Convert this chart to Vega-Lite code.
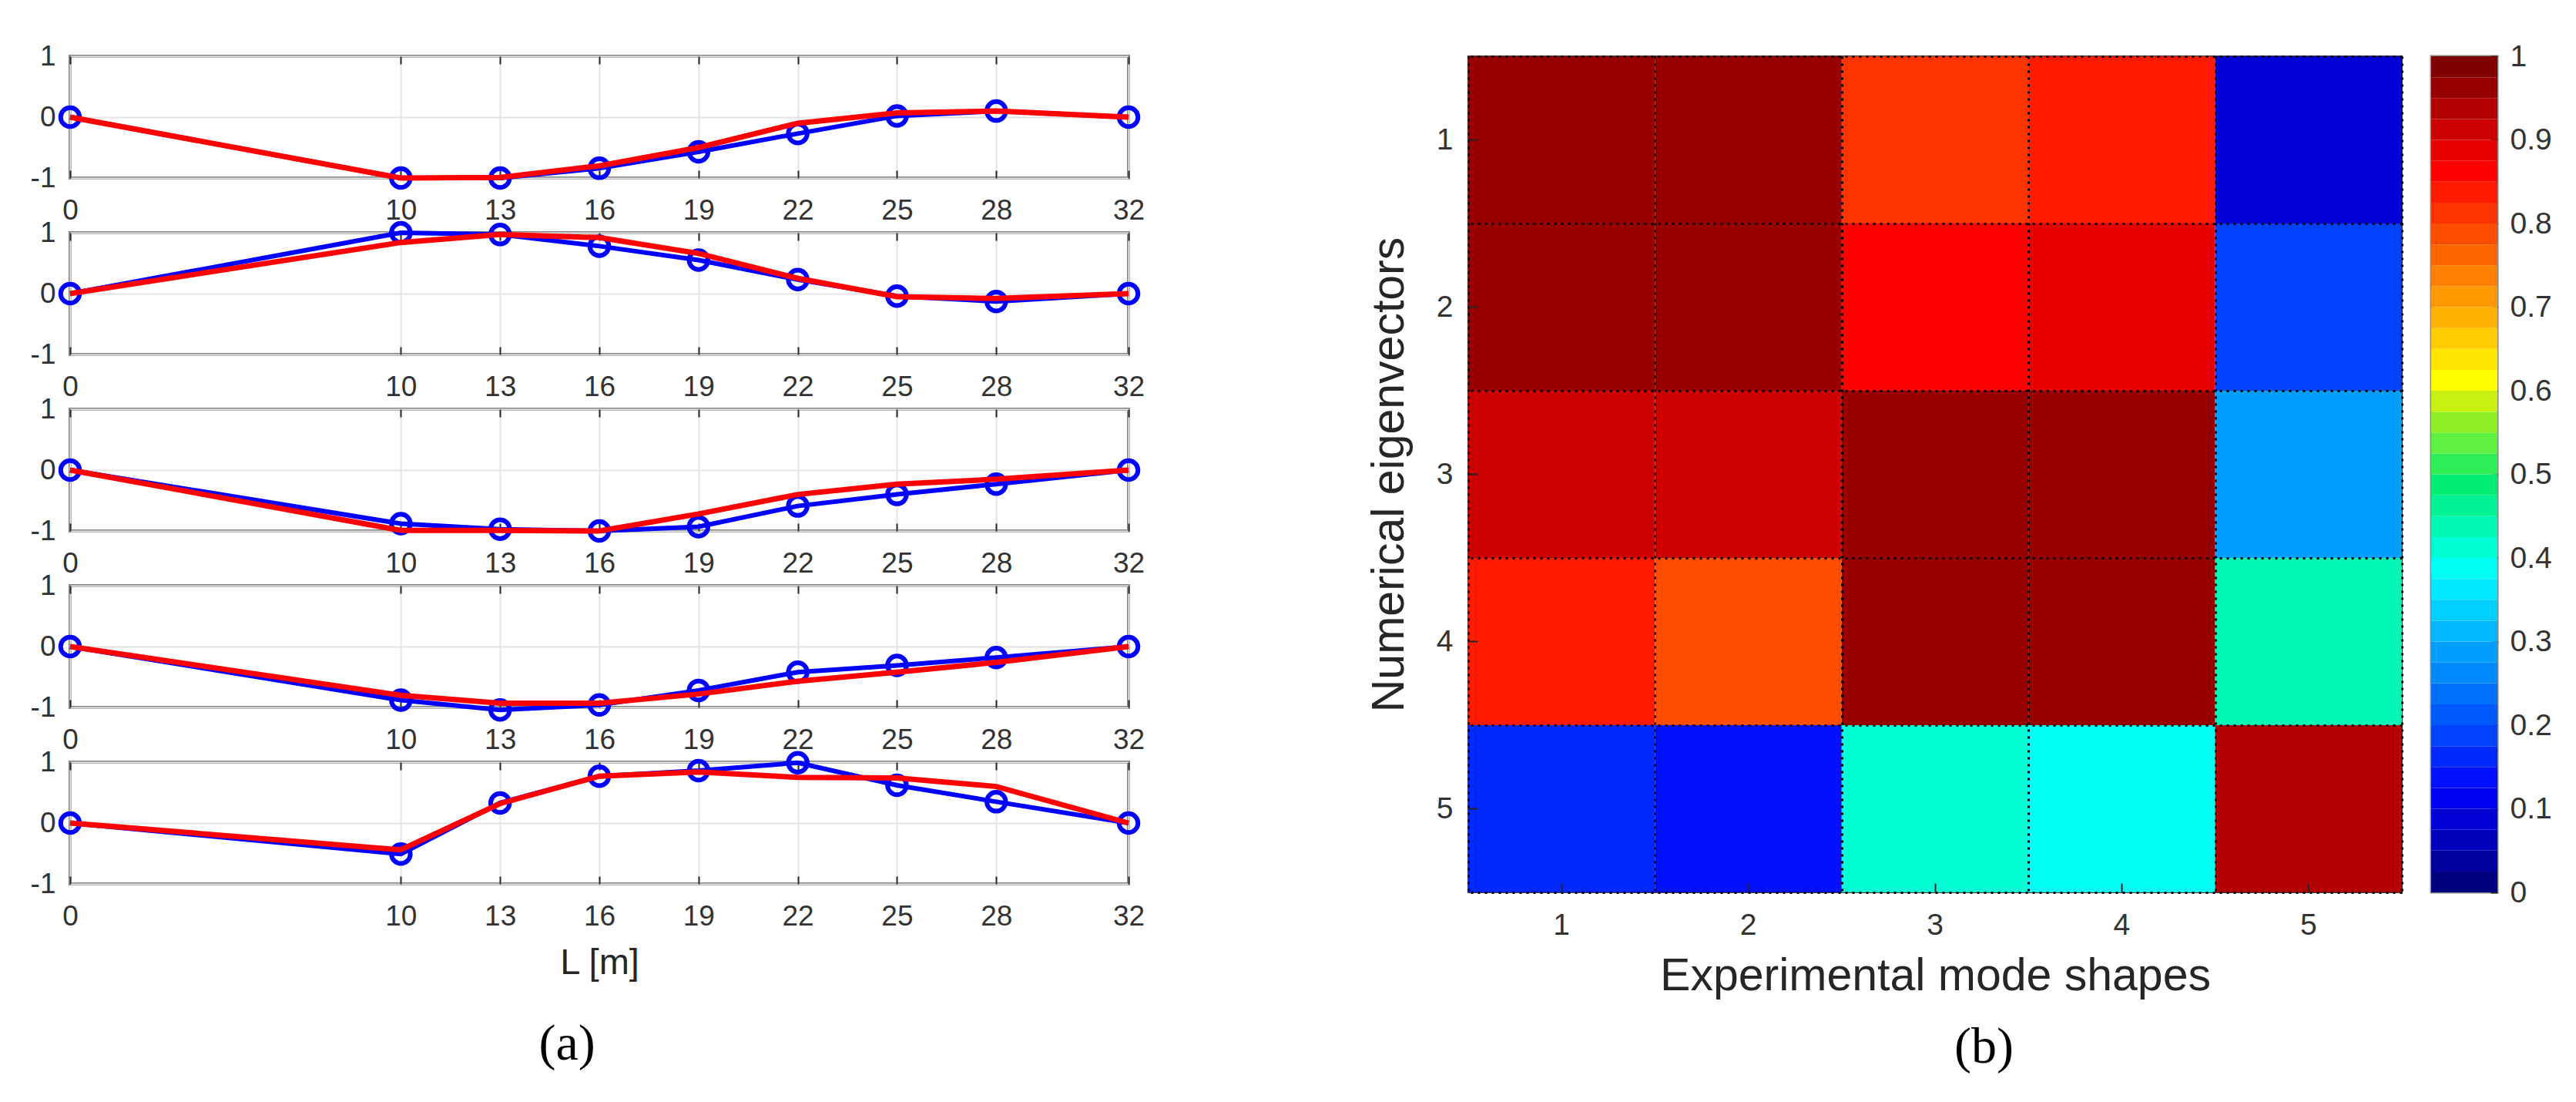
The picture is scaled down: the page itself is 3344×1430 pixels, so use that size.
{
  "$schema": "https://vega.github.io/schema/vega-lite/v6.json",
  "background": "white",
  "padding": {"left": 37, "top": 52, "right": 10, "bottom": 10},
  "config": {
    "font": "Liberation Sans",
    "view": {"stroke": null},
    "axis": {"labelFont": "Liberation Sans", "titleFont": "Liberation Sans", "labelColor": "#333333", "titleColor": "#262626", "titleFontWeight": "normal", "tickColor": "#262626"}
  },
  "datasets": {
    "modes": [
      {"mode": 1, "L": 0, "exp": 0, "num": 0},
      {"mode": 1, "L": 10, "exp": -1.0, "num": -1.0},
      {"mode": 1, "L": 13, "exp": -1.0, "num": -0.99},
      {"mode": 1, "L": 16, "exp": -0.84, "num": -0.8},
      {"mode": 1, "L": 19, "exp": -0.57, "num": -0.5},
      {"mode": 1, "L": 22, "exp": -0.27, "num": -0.1},
      {"mode": 1, "L": 25, "exp": 0.02, "num": 0.07},
      {"mode": 1, "L": 28, "exp": 0.1, "num": 0.1},
      {"mode": 1, "L": 32, "exp": 0, "num": 0},
      {"mode": 2, "L": 0, "exp": 0, "num": 0},
      {"mode": 2, "L": 10, "exp": 1.0, "num": 0.84},
      {"mode": 2, "L": 13, "exp": 0.97, "num": 0.97},
      {"mode": 2, "L": 16, "exp": 0.78, "num": 0.92},
      {"mode": 2, "L": 19, "exp": 0.55, "num": 0.66},
      {"mode": 2, "L": 22, "exp": 0.23, "num": 0.25},
      {"mode": 2, "L": 25, "exp": -0.04, "num": -0.05},
      {"mode": 2, "L": 28, "exp": -0.13, "num": -0.08},
      {"mode": 2, "L": 32, "exp": 0, "num": 0},
      {"mode": 3, "L": 0, "exp": 0, "num": 0},
      {"mode": 3, "L": 10, "exp": -0.88, "num": -0.99},
      {"mode": 3, "L": 13, "exp": -0.97, "num": -0.99},
      {"mode": 3, "L": 16, "exp": -1.0, "num": -1.0},
      {"mode": 3, "L": 19, "exp": -0.93, "num": -0.72},
      {"mode": 3, "L": 22, "exp": -0.59, "num": -0.4},
      {"mode": 3, "L": 25, "exp": -0.4, "num": -0.23},
      {"mode": 3, "L": 28, "exp": -0.23, "num": -0.15},
      {"mode": 3, "L": 32, "exp": 0, "num": 0},
      {"mode": 4, "L": 0, "exp": 0, "num": 0},
      {"mode": 4, "L": 10, "exp": -0.88, "num": -0.8},
      {"mode": 4, "L": 13, "exp": -1.04, "num": -0.93},
      {"mode": 4, "L": 16, "exp": -0.96, "num": -0.93},
      {"mode": 4, "L": 19, "exp": -0.72, "num": -0.78},
      {"mode": 4, "L": 22, "exp": -0.42, "num": -0.57},
      {"mode": 4, "L": 25, "exp": -0.31, "num": -0.42},
      {"mode": 4, "L": 28, "exp": -0.18, "num": -0.26},
      {"mode": 4, "L": 32, "exp": 0, "num": 0},
      {"mode": 5, "L": 0, "exp": 0, "num": 0},
      {"mode": 5, "L": 10, "exp": -0.51, "num": -0.44},
      {"mode": 5, "L": 13, "exp": 0.33, "num": 0.32},
      {"mode": 5, "L": 16, "exp": 0.77, "num": 0.77},
      {"mode": 5, "L": 19, "exp": 0.86, "num": 0.84},
      {"mode": 5, "L": 22, "exp": 0.99, "num": 0.75},
      {"mode": 5, "L": 25, "exp": 0.62, "num": 0.74},
      {"mode": 5, "L": 28, "exp": 0.35, "num": 0.6},
      {"mode": 5, "L": 32, "exp": 0, "num": 0}
    ],
    "mac": [
      {"num": 1, "exp": 1, "mac": 0.96}, {"num": 1, "exp": 2, "mac": 0.96}, {"num": 1, "exp": 3, "mac": 0.81}, {"num": 1, "exp": 4, "mac": 0.84}, {"num": 1, "exp": 5, "mac": 0.08},
      {"num": 2, "exp": 1, "mac": 0.96}, {"num": 2, "exp": 2, "mac": 0.96}, {"num": 2, "exp": 3, "mac": 0.86}, {"num": 2, "exp": 4, "mac": 0.89}, {"num": 2, "exp": 5, "mac": 0.19},
      {"num": 3, "exp": 1, "mac": 0.91}, {"num": 3, "exp": 2, "mac": 0.91}, {"num": 3, "exp": 3, "mac": 0.96}, {"num": 3, "exp": 4, "mac": 0.96}, {"num": 3, "exp": 5, "mac": 0.28},
      {"num": 4, "exp": 1, "mac": 0.84}, {"num": 4, "exp": 2, "mac": 0.79}, {"num": 4, "exp": 3, "mac": 0.96}, {"num": 4, "exp": 4, "mac": 0.96}, {"num": 4, "exp": 5, "mac": 0.445},
      {"num": 5, "exp": 1, "mac": 0.165}, {"num": 5, "exp": 2, "mac": 0.14}, {"num": 5, "exp": 3, "mac": 0.41}, {"num": 5, "exp": 4, "mac": 0.39}, {"num": 5, "exp": 5, "mac": 0.94}
    ],
    "bands": [
      {"lo": 0, "hi": 0.025, "v": 0.0125}, {"lo": 0.025, "hi": 0.05, "v": 0.0375}, {"lo": 0.05, "hi": 0.075, "v": 0.0625}, {"lo": 0.075, "hi": 0.1, "v": 0.0875},
      {"lo": 0.1, "hi": 0.125, "v": 0.1125}, {"lo": 0.125, "hi": 0.15, "v": 0.1375}, {"lo": 0.15, "hi": 0.175, "v": 0.1625}, {"lo": 0.175, "hi": 0.2, "v": 0.1875},
      {"lo": 0.2, "hi": 0.225, "v": 0.2125}, {"lo": 0.225, "hi": 0.25, "v": 0.2375}, {"lo": 0.25, "hi": 0.275, "v": 0.2625}, {"lo": 0.275, "hi": 0.3, "v": 0.2875},
      {"lo": 0.3, "hi": 0.325, "v": 0.3125}, {"lo": 0.325, "hi": 0.35, "v": 0.3375}, {"lo": 0.35, "hi": 0.375, "v": 0.3625}, {"lo": 0.375, "hi": 0.4, "v": 0.3875},
      {"lo": 0.4, "hi": 0.425, "v": 0.4125}, {"lo": 0.425, "hi": 0.45, "v": 0.4375}, {"lo": 0.45, "hi": 0.475, "v": 0.4625}, {"lo": 0.475, "hi": 0.5, "v": 0.4875},
      {"lo": 0.5, "hi": 0.525, "v": 0.5125}, {"lo": 0.525, "hi": 0.55, "v": 0.5375}, {"lo": 0.55, "hi": 0.575, "v": 0.5625}, {"lo": 0.575, "hi": 0.6, "v": 0.5875},
      {"lo": 0.6, "hi": 0.625, "v": 0.6125}, {"lo": 0.625, "hi": 0.65, "v": 0.6375}, {"lo": 0.65, "hi": 0.675, "v": 0.6625}, {"lo": 0.675, "hi": 0.7, "v": 0.6875},
      {"lo": 0.7, "hi": 0.725, "v": 0.7125}, {"lo": 0.725, "hi": 0.75, "v": 0.7375}, {"lo": 0.75, "hi": 0.775, "v": 0.7625}, {"lo": 0.775, "hi": 0.8, "v": 0.7875},
      {"lo": 0.8, "hi": 0.825, "v": 0.8125}, {"lo": 0.825, "hi": 0.85, "v": 0.8375}, {"lo": 0.85, "hi": 0.875, "v": 0.8625}, {"lo": 0.875, "hi": 0.9, "v": 0.8875},
      {"lo": 0.9, "hi": 0.925, "v": 0.9125}, {"lo": 0.925, "hi": 0.95, "v": 0.9375}, {"lo": 0.95, "hi": 0.975, "v": 0.9625}, {"lo": 0.975, "hi": 1, "v": 0.9875}
    ]
  },
  "hconcat": [
    {
      "data": {"name": "modes"},
      "bounds": "flush",
      "spacing": 71,
      "title": {"text": "(a)", "orient": "bottom", "anchor": "middle", "font": "Liberation Serif", "fontSize": 66, "fontWeight": "normal", "color": "#000000", "offset": 49, "dx": -28},
      "vconcat": [
        {
          "width": 1374, "height": 158,
          "view": {"stroke": "#858585", "strokeWidth": 4},
          "transform": [{"filter": "datum.mode == 1"}],
          "layer": [
            {"mark": {"type": "line", "color": "#0000ff", "strokeWidth": 6, "point": {"filled": false, "color": "#0000ff", "size": 600, "strokeWidth": 6}},
             "encoding": {
               "x": {"field": "L", "type": "quantitative", "scale": {"domain": [0, 32], "nice": false, "zero": false},
                     "axis": {"orient": "bottom", "values": [0, 10, 13, 16, 19, 22, 25, 28, 32], "labelFontSize": 37, "labelPadding": 34, "tickSize": -10, "tickWidth": 2, "labelFlush": false, "grid": true, "gridColor": "#e4e4e4", "gridWidth": 2, "domain": false, "title": null}},
               "y": {"field": "exp", "type": "quantitative", "scale": {"domain": [-1, 1], "nice": false, "zero": false},
                     "axis": {"values": [-1, 0, 1], "labelFontSize": 37, "labelPadding": 19, "ticks": false, "grid": true, "gridColor": "#e4e4e4", "gridWidth": 2, "domain": false, "title": null, "labelExpr": "datum.value < 0 ? '-1' : (datum.value > 0 ? '1' : '0')"}}
             }},
            {"mark": {"type": "line", "color": "#ff0000", "strokeWidth": 7},
             "encoding": {
               "x": {"field": "L", "type": "quantitative", "scale": {"domain": [0, 32], "nice": false, "zero": false},
                     "axis": {"orient": "top", "values": [0, 10, 13, 16, 19, 22, 25, 28, 32], "labels": false, "tickSize": -10, "tickWidth": 2, "grid": false, "domain": false, "title": null}},
               "y": {"field": "num", "type": "quantitative", "scale": {"domain": [-1, 1], "nice": false, "zero": false},
                     "axis": {"values": [-1, 0, 1], "labelFontSize": 37, "labelPadding": 19, "ticks": false, "grid": true, "gridColor": "#e4e4e4", "gridWidth": 2, "domain": false, "title": null, "labelExpr": "datum.value < 0 ? '-1' : (datum.value > 0 ? '1' : '0')"}}
             }}
          ],
          "resolve": {"axis": {"x": "independent"}}
        },
        {
          "width": 1374, "height": 158,
          "view": {"stroke": "#858585", "strokeWidth": 4},
          "transform": [{"filter": "datum.mode == 2"}],
          "layer": [
            {"mark": {"type": "line", "color": "#0000ff", "strokeWidth": 6, "point": {"filled": false, "color": "#0000ff", "size": 600, "strokeWidth": 6}},
             "encoding": {
               "x": {"field": "L", "type": "quantitative", "scale": {"domain": [0, 32], "nice": false, "zero": false},
                     "axis": {"orient": "bottom", "values": [0, 10, 13, 16, 19, 22, 25, 28, 32], "labelFontSize": 37, "labelPadding": 34, "tickSize": -10, "tickWidth": 2, "labelFlush": false, "grid": true, "gridColor": "#e4e4e4", "gridWidth": 2, "domain": false, "title": null}},
               "y": {"field": "exp", "type": "quantitative", "scale": {"domain": [-1, 1], "nice": false, "zero": false},
                     "axis": {"values": [-1, 0, 1], "labelFontSize": 37, "labelPadding": 19, "ticks": false, "grid": true, "gridColor": "#e4e4e4", "gridWidth": 2, "domain": false, "title": null, "labelExpr": "datum.value < 0 ? '-1' : (datum.value > 0 ? '1' : '0')"}}
             }},
            {"mark": {"type": "line", "color": "#ff0000", "strokeWidth": 7},
             "encoding": {
               "x": {"field": "L", "type": "quantitative", "scale": {"domain": [0, 32], "nice": false, "zero": false},
                     "axis": {"orient": "top", "values": [0, 10, 13, 16, 19, 22, 25, 28, 32], "labels": false, "tickSize": -10, "tickWidth": 2, "grid": false, "domain": false, "title": null}},
               "y": {"field": "num", "type": "quantitative", "scale": {"domain": [-1, 1], "nice": false, "zero": false},
                     "axis": {"values": [-1, 0, 1], "labelFontSize": 37, "labelPadding": 19, "ticks": false, "grid": true, "gridColor": "#e4e4e4", "gridWidth": 2, "domain": false, "title": null, "labelExpr": "datum.value < 0 ? '-1' : (datum.value > 0 ? '1' : '0')"}}
             }}
          ],
          "resolve": {"axis": {"x": "independent"}}
        },
        {
          "width": 1374, "height": 158,
          "view": {"stroke": "#858585", "strokeWidth": 4},
          "transform": [{"filter": "datum.mode == 3"}],
          "layer": [
            {"mark": {"type": "line", "color": "#0000ff", "strokeWidth": 6, "point": {"filled": false, "color": "#0000ff", "size": 600, "strokeWidth": 6}},
             "encoding": {
               "x": {"field": "L", "type": "quantitative", "scale": {"domain": [0, 32], "nice": false, "zero": false},
                     "axis": {"orient": "bottom", "values": [0, 10, 13, 16, 19, 22, 25, 28, 32], "labelFontSize": 37, "labelPadding": 34, "tickSize": -10, "tickWidth": 2, "labelFlush": false, "grid": true, "gridColor": "#e4e4e4", "gridWidth": 2, "domain": false, "title": null}},
               "y": {"field": "exp", "type": "quantitative", "scale": {"domain": [-1, 1], "nice": false, "zero": false},
                     "axis": {"values": [-1, 0, 1], "labelFontSize": 37, "labelPadding": 19, "ticks": false, "grid": true, "gridColor": "#e4e4e4", "gridWidth": 2, "domain": false, "title": null, "labelExpr": "datum.value < 0 ? '-1' : (datum.value > 0 ? '1' : '0')"}}
             }},
            {"mark": {"type": "line", "color": "#ff0000", "strokeWidth": 7},
             "encoding": {
               "x": {"field": "L", "type": "quantitative", "scale": {"domain": [0, 32], "nice": false, "zero": false},
                     "axis": {"orient": "top", "values": [0, 10, 13, 16, 19, 22, 25, 28, 32], "labels": false, "tickSize": -10, "tickWidth": 2, "grid": false, "domain": false, "title": null}},
               "y": {"field": "num", "type": "quantitative", "scale": {"domain": [-1, 1], "nice": false, "zero": false},
                     "axis": {"values": [-1, 0, 1], "labelFontSize": 37, "labelPadding": 19, "ticks": false, "grid": true, "gridColor": "#e4e4e4", "gridWidth": 2, "domain": false, "title": null, "labelExpr": "datum.value < 0 ? '-1' : (datum.value > 0 ? '1' : '0')"}}
             }}
          ],
          "resolve": {"axis": {"x": "independent"}}
        },
        {
          "width": 1374, "height": 158,
          "view": {"stroke": "#858585", "strokeWidth": 4},
          "transform": [{"filter": "datum.mode == 4"}],
          "layer": [
            {"mark": {"type": "line", "color": "#0000ff", "strokeWidth": 6, "point": {"filled": false, "color": "#0000ff", "size": 600, "strokeWidth": 6}},
             "encoding": {
               "x": {"field": "L", "type": "quantitative", "scale": {"domain": [0, 32], "nice": false, "zero": false},
                     "axis": {"orient": "bottom", "values": [0, 10, 13, 16, 19, 22, 25, 28, 32], "labelFontSize": 37, "labelPadding": 34, "tickSize": -10, "tickWidth": 2, "labelFlush": false, "grid": true, "gridColor": "#e4e4e4", "gridWidth": 2, "domain": false, "title": null}},
               "y": {"field": "exp", "type": "quantitative", "scale": {"domain": [-1, 1], "nice": false, "zero": false},
                     "axis": {"values": [-1, 0, 1], "labelFontSize": 37, "labelPadding": 19, "ticks": false, "grid": true, "gridColor": "#e4e4e4", "gridWidth": 2, "domain": false, "title": null, "labelExpr": "datum.value < 0 ? '-1' : (datum.value > 0 ? '1' : '0')"}}
             }},
            {"mark": {"type": "line", "color": "#ff0000", "strokeWidth": 7},
             "encoding": {
               "x": {"field": "L", "type": "quantitative", "scale": {"domain": [0, 32], "nice": false, "zero": false},
                     "axis": {"orient": "top", "values": [0, 10, 13, 16, 19, 22, 25, 28, 32], "labels": false, "tickSize": -10, "tickWidth": 2, "grid": false, "domain": false, "title": null}},
               "y": {"field": "num", "type": "quantitative", "scale": {"domain": [-1, 1], "nice": false, "zero": false},
                     "axis": {"values": [-1, 0, 1], "labelFontSize": 37, "labelPadding": 19, "ticks": false, "grid": true, "gridColor": "#e4e4e4", "gridWidth": 2, "domain": false, "title": null, "labelExpr": "datum.value < 0 ? '-1' : (datum.value > 0 ? '1' : '0')"}}
             }}
          ],
          "resolve": {"axis": {"x": "independent"}}
        },
        {
          "width": 1374, "height": 158,
          "view": {"stroke": "#858585", "strokeWidth": 4},
          "transform": [{"filter": "datum.mode == 5"}],
          "layer": [
            {"mark": {"type": "line", "color": "#0000ff", "strokeWidth": 6, "point": {"filled": false, "color": "#0000ff", "size": 600, "strokeWidth": 6}},
             "encoding": {
               "x": {"field": "L", "type": "quantitative", "scale": {"domain": [0, 32], "nice": false, "zero": false},
                     "axis": {"orient": "bottom", "values": [0, 10, 13, 16, 19, 22, 25, 28, 32], "labelFontSize": 37, "labelPadding": 34, "tickSize": -10, "tickWidth": 2, "labelFlush": false, "grid": true, "gridColor": "#e4e4e4", "gridWidth": 2, "domain": false, "title": "L [m]", "titleFontSize": 47, "titlePadding": 19}},
               "y": {"field": "exp", "type": "quantitative", "scale": {"domain": [-1, 1], "nice": false, "zero": false},
                     "axis": {"values": [-1, 0, 1], "labelFontSize": 37, "labelPadding": 19, "ticks": false, "grid": true, "gridColor": "#e4e4e4", "gridWidth": 2, "domain": false, "title": null, "labelExpr": "datum.value < 0 ? '-1' : (datum.value > 0 ? '1' : '0')"}}
             }},
            {"mark": {"type": "line", "color": "#ff0000", "strokeWidth": 7},
             "encoding": {
               "x": {"field": "L", "type": "quantitative", "scale": {"domain": [0, 32], "nice": false, "zero": false},
                     "axis": {"orient": "top", "values": [0, 10, 13, 16, 19, 22, 25, 28, 32], "labels": false, "tickSize": -10, "tickWidth": 2, "grid": false, "domain": false, "title": null}},
               "y": {"field": "num", "type": "quantitative", "scale": {"domain": [-1, 1], "nice": false, "zero": false},
                     "axis": {"values": [-1, 0, 1], "labelFontSize": 37, "labelPadding": 19, "ticks": false, "grid": true, "gridColor": "#e4e4e4", "gridWidth": 2, "domain": false, "title": null, "labelExpr": "datum.value < 0 ? '-1' : (datum.value > 0 ? '1' : '0')"}}
             }}
          ],
          "resolve": {"axis": {"x": "independent"}}
        }
      ]
    },
    {
      "bounds": "flush",
      "spacing": 38,
      "title": {"text": "(b)", "orient": "bottom", "anchor": "middle", "font": "Liberation Serif", "fontSize": 66, "fontWeight": "normal", "color": "#000000", "offset": 30, "dx": 32},
      "hconcat": [
        {
          "width": 1212, "height": 1085,
          "data": {"name": "mac"},
          "view": {"stroke": "#3a3a3a", "strokeWidth": 2},
          "layer": [
            {"mark": {"type": "rect"},
             "encoding": {
               "x": {"field": "exp", "type": "ordinal", "scale": {"paddingInner": 0, "paddingOuter": 0},
                     "axis": {"orient": "bottom", "labelAngle": 0, "labelFontSize": 39, "tickSize": -12, "tickWidth": 2, "labelPadding": 35, "domain": false, "grid": false, "title": "Experimental mode shapes", "titleFontSize": 59, "titlePadding": 17}},
               "y": {"field": "num", "type": "ordinal", "scale": {"paddingInner": 0, "paddingOuter": 0},
                     "axis": {"orient": "left", "labelFontSize": 39, "tickSize": -12, "tickWidth": 2, "labelPadding": 32, "domain": false, "grid": false, "title": "Numerical eigenvectors", "titleFontSize": 59, "titlePadding": 31}},
               "color": {"field": "mac", "type": "quantitative",
                         "scale": {"type": "quantize", "domain": [0, 1], "range": ["#000080", "#00009d", "#0000ba", "#0000d6", "#0000f2", "#0010ff", "#0028ff", "#0042ff", "#0058ff", "#0070ff", "#0088ff", "#009eff", "#00b8ff", "#00d0ff", "#00e8ff", "#00fff4", "#00ffd4", "#00f8b4", "#00f094", "#00ec72", "#30ee58", "#60f040", "#90f028", "#c8f010", "#ffff00", "#ffe600", "#ffcc00", "#ffb300", "#ff9900", "#ff8000", "#ff6600", "#ff4d00", "#ff3300", "#ff1a00", "#ff0000", "#e60000", "#cc0000", "#b30000", "#960000", "#800000"]},
                         "legend": null}
             }},
            {"mark": {"type": "rect", "opacity": 0},
             "encoding": {
               "x": {"field": "exp", "type": "ordinal", "scale": {"paddingInner": 0, "paddingOuter": 0},
                     "axis": {"orient": "top", "labels": false, "ticks": false, "domain": false, "grid": true, "tickBand": "extent", "gridColor": "#000000", "gridDash": [3, 6], "gridWidth": 3, "zindex": 1, "title": null}},
               "y": {"field": "num", "type": "ordinal", "scale": {"paddingInner": 0, "paddingOuter": 0},
                     "axis": {"orient": "right", "labels": false, "ticks": false, "domain": false, "grid": true, "tickBand": "extent", "gridColor": "#000000", "gridDash": [3, 6], "gridWidth": 3, "zindex": 1, "title": null}}
             }}
          ],
          "resolve": {"axis": {"x": "independent", "y": "independent"}}
        },
        {
          "width": 86, "height": 1085,
          "data": {"name": "bands"},
          "view": {"stroke": "#8a8a8a", "strokeWidth": 3},
          "mark": {"type": "rect"},
          "encoding": {
            "y": {"field": "lo", "type": "quantitative", "scale": {"domain": [0, 1], "nice": false, "zero": false},
                  "axis": {"orient": "right", "values": [0, 0.1, 0.2, 0.3, 0.4, 0.5, 0.6, 0.7, 0.8, 0.9, 1], "format": "~g", "labelFontSize": 39, "tickSize": -9, "tickWidth": 2, "labelPadding": 25, "domain": false, "grid": false, "title": null}},
            "y2": {"field": "hi"},
            "color": {"field": "v", "type": "quantitative",
                      "scale": {"type": "quantize", "domain": [0, 1], "range": ["#000080", "#00009d", "#0000ba", "#0000d6", "#0000f2", "#0010ff", "#0028ff", "#0042ff", "#0058ff", "#0070ff", "#0088ff", "#009eff", "#00b8ff", "#00d0ff", "#00e8ff", "#00fff4", "#00ffd4", "#00f8b4", "#00f094", "#00ec72", "#30ee58", "#60f040", "#90f028", "#c8f010", "#ffff00", "#ffe600", "#ffcc00", "#ffb300", "#ff9900", "#ff8000", "#ff6600", "#ff4d00", "#ff3300", "#ff1a00", "#ff0000", "#e60000", "#cc0000", "#b30000", "#960000", "#800000"]},
                      "legend": null}
          }
        }
      ]
    }
  ],
  "spacing": 281
}
